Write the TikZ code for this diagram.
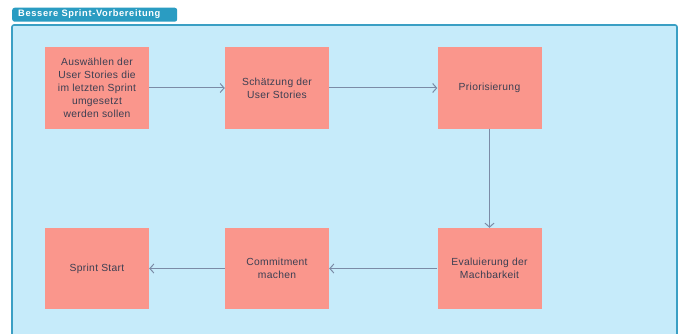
\documentclass[tikz,border=0pt]{standalone}
\usepackage{fontspec}
\setmainfont{Liberation Sans}
\usetikzlibrary{arrows.meta}
\definecolor{frameC}{HTML}{3A9FC4}
\definecolor{frameF}{HTML}{C6EBFA}
\definecolor{tabC}{HTML}{2A9CC2}
\definecolor{boxF}{HTML}{FA968C}
\definecolor{txtC}{HTML}{3C3F52}
\definecolor{arrC}{HTML}{7B8BA6}
\tikzset{
  card/.style={fill=boxF, minimum width=104pt, minimum height=81pt, inner sep=0pt,
    text=txtC, align=center, font=\fontsize{10.3}{13}\selectfont\addfontfeatures{LetterSpace=3}},
  flow/.style={draw=arrC, line width=1pt, -{Straight Barb[length=4pt,width=9pt,line width=1pt]}},
}
\begin{document}
\begin{tikzpicture}[x=1pt,y=-1pt]
\useasboundingbox (0,0) rectangle (682,334);
\fill[white] (0,0) rectangle (682,334);
\draw[frameC, fill=frameF, line width=1.6pt, rounded corners=2pt] (12,25) -- (677,25) -- (677,345) -- (12,345) -- cycle;
\node[fill=tabC, rounded corners=2.5pt, minimum width=165pt, minimum height=14pt, inner sep=0pt, anchor=north west] (tab) at (12,7.5) {};
\node[anchor=west, inner sep=0pt, text=white, font=\fontsize{9.3}{10}\selectfont\bfseries\addfontfeatures{LetterSpace=7}] (title) at (18,14.5) {Bessere Sprint-Vorbereitung};
\node[card] (a) at (97,88) {Auswählen der\\User Stories die\\im letzten Sprint\\umgesetzt\\werden sollen};
\node[card] (b) at (277,88) {Schätzung der\\User Stories};
\node[card] (c) at (489.5,88) {Priorisierung};
\node[card] (d) at (489.5,268.5) {Evaluierung der\\Machbarkeit};
\node[card] (e) at (277,268.5) {Commitment\\machen};
\node[card] (f) at (97,268.5) {Sprint Start};
\draw[flow] (a) -- (b);
\draw[flow] (b) -- (c);
\draw[flow] (c) -- (d);
\draw[flow] (d) -- (e);
\draw[flow] (e) -- (f);
\end{tikzpicture}
\end{document}
